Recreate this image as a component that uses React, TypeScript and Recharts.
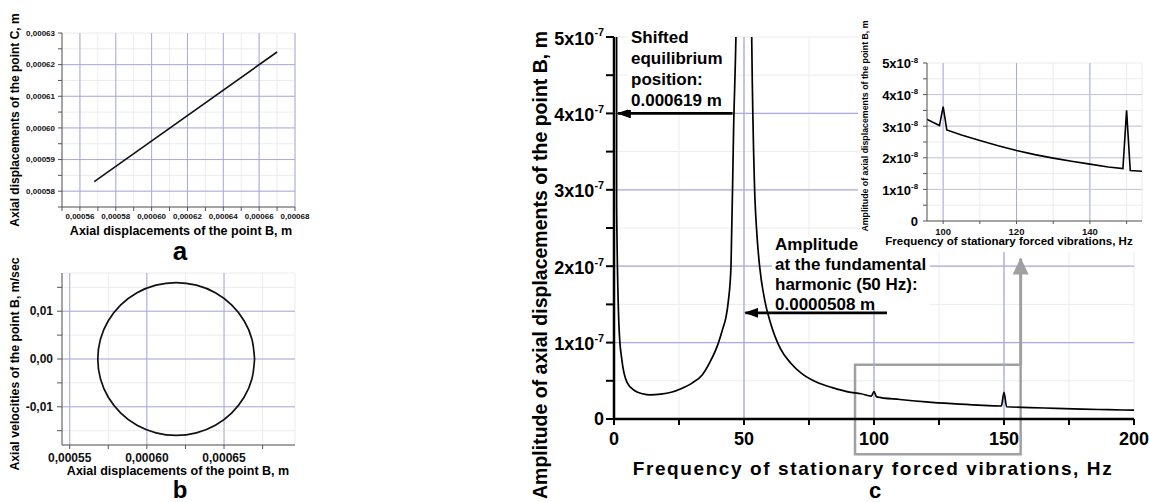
import React from 'react';
import { LineChart, Line, XAxis, YAxis, CartesianGrid, ReferenceLine, ReferenceArea } from 'recharts';

const FONT = '"Liberation Sans", Arial, Helvetica, sans-serif';
const MAJOR = '#a9a9e2';
const MINOR = '#ececec';

// a: axial displacement of point C against point B
const aDispB = [0.000568, 0.00067];
const aDispC = [0.000583, 0.000624];
const aTicksX = [0.00055, 0.00056, 0.00057, 0.00058, 0.00059, 0.0006, 0.00061, 0.00062, 0.00063, 0.00064, 0.00065, 0.00066, 0.00067, 0.00068];
const aLabelsX = [0.00056, 0.00058, 0.0006, 0.00062, 0.00064, 0.00066, 0.00068];
const aTicksY = [0.000575, 0.00058, 0.000585, 0.00059, 0.000595, 0.0006, 0.000605, 0.00061, 0.000615, 0.00062, 0.000625, 0.00063];
const aLabelsY = [0.00058, 0.00059, 0.0006, 0.00061, 0.00062, 0.00063];

// b: phase trajectory of point B
const bDispB = [
  0.0006698, 0.0006681, 0.000663, 0.0006549, 0.0006444, 0.0006321, 0.000619, 0.0006059, 0.0005936,
  0.0005831, 0.000575, 0.0005699, 0.0005682, 0.0005699, 0.000575, 0.0005831, 0.0005936, 0.0006059,
  0.000619, 0.0006321, 0.0006444, 0.0006549, 0.000663, 0.0006681, 0.0006698,
];
const bVelB = [
  0, 0.00414, 0.008, 0.01131, 0.01386, 0.01545, 0.016, 0.01545, 0.01386,
  0.01131, 0.008, 0.00414, 0, -0.00414, -0.008, -0.01131, -0.01386, -0.01545,
  -0.016, -0.01545, -0.01386, -0.01131, -0.008, -0.00414, 0,
];
const bTicksX = [0.00055, 0.000575, 0.0006, 0.000625, 0.00065, 0.000675];
const bLabelsX = [0.00055, 0.0006, 0.00065];
const bTicksY = [-0.015, -0.01, -0.005, 0, 0.005, 0.01, 0.015];
const bLabelsY = [-0.01, 0, 0.01];

// c: amplitude spectrum of point B
const cFreq = [
  0, 1, 2, 3, 5, 8, 11, 14, 18, 22, 26, 30, 34, 37, 40, 42, 43, 44, 45, 46,
  47, 48, 49, 50, 51, 52, 53, 54, 55, 56, 58, 60, 64, 68, 72, 78, 84, 90, 95, 99,
  100, 101, 110, 120, 130, 140, 149, 150, 151, 160, 170, 180, 190, 200,
];
const cAmp = [
  6.19e-4, 2.8e-7, 1.15e-7, 0.78e-7, 0.48e-7, 0.37e-7, 0.33e-7, 0.315e-7, 0.325e-7, 0.35e-7,
  0.4e-7, 0.47e-7, 0.58e-7, 0.75e-7, 0.98e-7, 1.2e-7, 1.32e-7, 1.55e-7, 2.0e-7, 3.8e-7,
  5.2e-7, 8e-7, 1.8e-6, 5.08e-5, 1.8e-6, 9e-7, 4.9e-7, 3.1e-7, 2.4e-7, 2.0e-7,
  1.55e-7, 1.28e-7, 0.92e-7, 0.73e-7, 0.6e-7, 0.48e-7, 0.41e-7, 0.355e-7, 0.33e-7, 0.3e-7,
  0.36e-7, 0.29e-7, 0.255e-7, 0.224e-7, 0.2e-7, 0.181e-7, 0.17e-7, 0.35e-7, 0.16e-7, 0.15e-7,
  0.14e-7, 0.13e-7, 0.122e-7, 0.115e-7,
];
const cTicksX = [0, 25, 50, 75, 100, 125, 150, 175, 200];
const cLabelsX = [0, 50, 100, 150, 200];
const cTicksY = [0, 0.5e-7, 1e-7, 1.5e-7, 2e-7, 2.5e-7, 3e-7, 3.5e-7, 4e-7, 4.5e-7, 5e-7];
const cLabelsY = [0, 1e-7, 2e-7, 3e-7, 4e-7, 5e-7];
const cGridX = [50, 100, 150];
const cGridY = [1e-7, 2e-7, 3e-7, 4e-7];

// inset: zoom on the 100 and 150 Hz harmonics
const insetFreq = [95, 99, 100, 101, 105, 110, 115, 120, 125, 130, 135, 140, 145, 149, 150, 151, 155];
const insetAmp = [
  3.25e-8, 3.02e-8, 3.62e-8, 2.88e-8, 2.72e-8, 2.55e-8, 2.38e-8, 2.23e-8, 2.1e-8,
  1.99e-8, 1.89e-8, 1.8e-8, 1.71e-8, 1.66e-8, 3.5e-8, 1.6e-8, 1.57e-8,
];
const insetTicksX = [100, 110, 120, 130, 140, 150];
const insetLabelsX = [100, 120, 140];
const insetTicksY = [0, 0.5e-8, 1e-8, 1.5e-8, 2e-8, 2.5e-8, 3e-8, 3.5e-8, 4e-8, 4.5e-8, 5e-8];
const insetLabelsY = [0, 1e-8, 2e-8, 3e-8, 4e-8, 5e-8];

const aData = aDispB.map((b, i) => ({ b, c: aDispC[i] }));
const bData = bDispB.map((x, i) => ({ x, v: bVelB[i] }));
const cData = cFreq.map((f, i) => ({ f, amp: cAmp[i] }));
const insetData = insetFreq.map((f, i) => ({ f, amp: insetAmp[i] }));

const has = (list: number[], v: number) =>
  list.some((l) => Math.abs(l - v) <= Math.max(Math.abs(l), 1e-15) * 1e-6);

const commaFmt = (digits: number, labels: number[]) => (v: number) =>
  has(labels, v) ? v.toFixed(digits).replace('.', ',') : '';

const plainFmt = (labels: number[]) => (v: number) => (has(labels, v) ? String(v) : '');

const SciTick = ({ x, y, payload, exp, size, labels }: any) => {
  const v = payload.value;
  if (!has(labels, v)) return <g />;
  const m = Math.round(v / Math.pow(10, exp));
  const common = { x, y, textAnchor: 'end' as const, fontFamily: FONT, fontWeight: 'bold', fill: '#000', fontSize: size };
  if (m === 0) {
    return <text {...common} dy="0.36em">0</text>;
  }
  return (
    <text {...common} dy="0.42em">
      {m}x10
      <tspan dy={-size * 0.45} fontSize={size * 0.6}>{exp}</tspan>
    </text>
  );
};

const Label = ({ x, y, size, rotate, children, style }: any) => (
  <div
    style={{
      position: 'absolute',
      left: x,
      top: y,
      transform: `translate(-50%, -50%)${rotate ? ' rotate(-90deg)' : ''}`,
      fontFamily: FONT,
      fontWeight: 'bold',
      fontSize: size,
      lineHeight: 1,
      whiteSpace: 'nowrap',
      color: '#000',
      ...style,
    }}
  >
    {children}
  </div>
);

const smallTick = (size: number) => ({ fontSize: size, fontWeight: 'bold', fill: '#111', fontFamily: FONT });
const thinAxis = { stroke: '#555', strokeWidth: 1 };

const App = () => {
  return (
    <div style={{ position: 'absolute', left: 0, top: 0, width: 1149, height: 502, background: '#fff', overflow: 'hidden' }}>
      {/* a */}
      <div style={{ position: 'absolute', left: 0, top: 0 }}>
        <LineChart width={310} height={225} data={aData} margin={{ top: 33, right: 15, left: 0, bottom: 2 }}>
          <CartesianGrid stroke={MINOR} />
          <XAxis type="number" dataKey="b" domain={[0.00055, 0.00068]} ticks={aTicksX} interval={0}
            tickFormatter={commaFmt(5, aLabelsX)} height={16} tickSize={4} tickMargin={2}
            axisLine={thinAxis} tickLine={thinAxis} tick={smallTick(8)} />
          <YAxis type="number" domain={[0.000575, 0.00063]} ticks={aTicksY} interval={0}
            tickFormatter={commaFmt(5, aLabelsY)} width={62} tickSize={4} tickMargin={3}
            axisLine={thinAxis} tickLine={thinAxis} tick={smallTick(8)} />
          {aLabelsX.map((v) => <ReferenceLine key={'ax' + v} x={v} stroke={MAJOR} />)}
          {aLabelsY.slice(0, -1).map((v) => <ReferenceLine key={'ay' + v} y={v} stroke={MAJOR} />)}
          <Line type="linear" dataKey="c" stroke="#111" strokeWidth={1.6} dot={false} isAnimationActive={false} />
        </LineChart>
      </div>
      <Label x={15} y={120} size={12} rotate>Axial displacements of the point C, m</Label>
      <Label x={181} y={231} size={12.5}>Axial displacements of the point B, m</Label>
      <Label x={180} y={251} size={26}>a</Label>

      {/* b */}
      <div style={{ position: 'absolute', left: 0, top: 240 }}>
        <LineChart width={310} height={225} data={bData} margin={{ top: 33, right: 15, left: 0, bottom: 0 }}>
          <CartesianGrid stroke={MINOR} />
          <XAxis type="number" dataKey="x" domain={[0.000545, 0.000696]} ticks={bTicksX} interval={0}
            tickFormatter={commaFmt(5, bLabelsX)} height={20} tickSize={4} tickMargin={4}
            axisLine={thinAxis} tickLine={thinAxis} tick={smallTick(12)} />
          <YAxis type="number" domain={[-0.018, 0.018]} ticks={bTicksY} interval={0}
            tickFormatter={commaFmt(2, bLabelsY)} width={62} tickSize={5} tickMargin={4}
            axisLine={thinAxis} tickLine={thinAxis} tick={smallTick(12)} />
          {bLabelsX.map((v) => <ReferenceLine key={'bx' + v} x={v} stroke={MAJOR} />)}
          {bLabelsY.map((v) => <ReferenceLine key={'by' + v} y={v} stroke={MAJOR} />)}
          <Line type="natural" dataKey="v" stroke="#111" strokeWidth={1.7} dot={false} isAnimationActive={false} />
        </LineChart>
      </div>
      <Label x={15} y={364} size={12.3} rotate>Axial velocities of the point B, m/sec</Label>
      <Label x={178} y={471} size={12.5}>Axial displacements of the point B, m</Label>
      <Label x={180} y={490} size={24}>b</Label>

      {/* c */}
      <div style={{ position: 'absolute', left: 540, top: 0 }}>
        <LineChart width={609} height={502} data={cData} margin={{ top: 37, right: 15, left: 4, bottom: 53 }}>
          <defs>
            <marker id="blackHead" viewBox="0 0 14 10" markerWidth={14} markerHeight={10} refX={13} refY={5}
              orient="auto" markerUnits="userSpaceOnUse">
              <path d="M0,0 L14,5 L0,10 Z" fill="#000" />
            </marker>
            <marker id="grayHead" viewBox="0 0 17 16" markerWidth={17} markerHeight={16} refX={16} refY={8}
              orient="auto" markerUnits="userSpaceOnUse">
              <path d="M0,0 L17,8 L0,16 Z" fill="#a0a0a0" />
            </marker>
          </defs>
          <CartesianGrid stroke={MINOR} />
          <XAxis type="number" dataKey="f" domain={[0, 200]} ticks={cTicksX} interval={0}
            tickFormatter={plainFmt(cLabelsX)} height={30} tickSize={6} tickMargin={7}
            axisLine={{ stroke: '#000', strokeWidth: 2.5 }} tickLine={{ stroke: '#000', strokeWidth: 2 }}
            tick={{ fontSize: 18, fontWeight: 'bold', fill: '#000', fontFamily: FONT }} />
          <YAxis type="number" domain={[0, 5e-7]} allowDataOverflow ticks={cTicksY} interval={0}
            width={70} tickSize={8} tickMargin={2}
            axisLine={{ stroke: '#000', strokeWidth: 2.5 }} tickLine={{ stroke: '#000', strokeWidth: 2 }}
            tick={(p: any) => <SciTick {...p} exp={-7} size={18} labels={cLabelsY} />} />
          {cGridX.map((v) => <ReferenceLine key={'cx' + v} x={v} stroke={MAJOR} strokeWidth={1.3} />)}
          {cGridY.map((v) => <ReferenceLine key={'cy' + v} y={v} stroke={MAJOR} strokeWidth={1.3} />)}
          <ReferenceArea x1={92.7} x2={156.4} y1={-0.46e-7} y2={0.71e-7} ifOverflow="visible"
            fill="none" fillOpacity={0} stroke="#a0a0a0" strokeWidth={2.5} />
          <ReferenceLine segment={[{ x: 156.4, y: 0.71e-7 }, { x: 156.4, y: 2.1e-7 }]} ifOverflow="visible"
            stroke="#a0a0a0" strokeWidth={3} markerEnd="url(#grayHead)" />
          <ReferenceLine segment={[{ x: 45.6, y: 4e-7 }, { x: 1.5, y: 4e-7 }]} ifOverflow="visible"
            stroke="#000" strokeWidth={2.7} markerEnd="url(#blackHead)" />
          <ReferenceLine segment={[{ x: 105, y: 1.39e-7 }, { x: 50.5, y: 1.39e-7 }]} ifOverflow="visible"
            stroke="#000" strokeWidth={2.7} markerEnd="url(#blackHead)" />
          <Line type="monotone" dataKey="amp" stroke="#000" strokeWidth={1.7} dot={false} isAnimationActive={false} />
        </LineChart>
      </div>
      <Label x={541} y={265} size={19.5} rotate>Amplitude of axial displacements of the point B, m</Label>
      <Label x={873} y={468} size={19} style={{ letterSpacing: 1.6 }}>Frequency of stationary forced vibrations, Hz</Label>
      <Label x={875} y={491} size={22}>c</Label>

      {/* white masks behind the annotations */}
      <div style={{ position: 'absolute', left: 628, top: 27, width: 102, height: 83, background: '#fff' }} />
      <div style={{ position: 'absolute', left: 772, top: 236, width: 158, height: 74, background: '#fff' }} />

      {/* inset */}
      <div style={{ position: 'absolute', left: 858, top: 0, width: 291, height: 252, background: '#fff' }}>
        <LineChart width={291} height={252} data={insetData} margin={{ top: 63, right: 7, left: 2, bottom: 11 }}>
          <CartesianGrid stroke={MINOR} />
          <XAxis type="number" dataKey="f" domain={[95.6, 154.2]} allowDataOverflow ticks={insetTicksX} interval={0}
            tickFormatter={plainFmt(insetLabelsX)} height={20} tickSize={3} tickMargin={4}
            axisLine={thinAxis} tickLine={thinAxis} tick={smallTick(9.5)} />
          <YAxis type="number" domain={[0, 5e-8]} ticks={insetTicksY} interval={0}
            width={67} tickSize={4} tickMargin={5} axisLine={thinAxis} tickLine={thinAxis}
            tick={(p: any) => <SciTick {...p} exp={-8} size={13} labels={insetLabelsY} />} />
          {insetLabelsX.map((v) => <ReferenceLine key={'ix' + v} x={v} stroke={MAJOR} />)}
          {insetLabelsY.slice(1, -1).map((v) => <ReferenceLine key={'iy' + v} y={v} stroke="#c6c6dc" />)}
          <Line type="linear" dataKey="amp" stroke="#000" strokeWidth={1.6} dot={false} isAnimationActive={false} />
        </LineChart>
        <Label x={7} y={126} size={8.8} rotate>Amplitude of axial displacements of the point B, m</Label>
        <Label x={151} y={242} size={11.5}>Frequency of stationary forced vibrations, Hz</Label>
      </div>

      {/* annotations */}
      <div style={{ position: 'absolute', left: 631, top: 27, fontFamily: FONT, fontWeight: 'bold', fontSize: 17, lineHeight: '21px', color: '#000', whiteSpace: 'nowrap' }}>
        <div>Shifted</div>
        <div>equilibrium</div>
        <div>position:</div>
        <div>0.000619 m</div>
      </div>
      <div style={{ position: 'absolute', left: 775, top: 235, fontFamily: FONT, fontWeight: 'bold', fontSize: 17, lineHeight: '20px', color: '#000', whiteSpace: 'nowrap' }}>
        <div>Amplitude</div>
        <div>at the fundamental</div>
        <div>harmonic (50 Hz):</div>
        <div>0.0000508 m</div>
      </div>
    </div>
  );
};

export default App;
